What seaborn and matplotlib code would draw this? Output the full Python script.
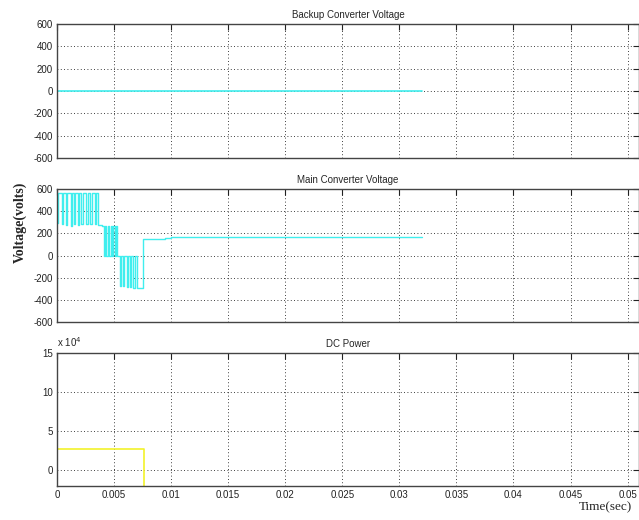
import numpy as np
import pandas as pd
import seaborn as sns
import matplotlib.pyplot as plt
from matplotlib.ticker import FuncFormatter, MultipleLocator

# backup converter: flat at zero
backup_t = [0.0, 0.032]
backup_v = [0.0, 0.0]

# main converter: switching levels (step-post)
main_t = [0.0, 0.0001, 0.0004, 0.0005, 0.0008, 0.0009, 0.0012, 0.0013, 0.0015, 0.0016,
          0.0018, 0.0019, 0.0021, 0.0023, 0.0025, 0.0027, 0.0029, 0.0031, 0.0033, 0.0034,
          0.0036, 0.0039, 0.0041, 0.0042, 0.0043, 0.0045, 0.0046, 0.0047, 0.0048, 0.0049,
          0.0051, 0.0052, 0.0053, 0.0055, 0.0056, 0.0058, 0.0059, 0.0061, 0.0062, 0.0064,
          0.0065, 0.0067, 0.0068, 0.0070, 0.0071, 0.0075, 0.0085, 0.0095, 0.0100, 0.0320]
main_v = [290, 560, 280, 560, 275, 560, 270, 560, 280, 560,
          275, 560, 280, 560, 285, 560, 285, 560, 280, 560,
          275, 268, 0, 265, 0, 265, 0, 265, 0, 265,
          0, 265, 0, -275, 0, -275, 0, -280, 0, -285,
          0, -290, 0, -295, -295, 150, 152, 158, 165, 165]

# dc power (W)
dc_t = [0.0, 0.0076, 0.0076]
dc_p = [2.7e4, 2.7e4, -3e4]

sns.set_style('white')
plt.rcParams['font.family'] = ['Liberation Sans Narrow', 'Liberation Sans', 'DejaVu Sans']
plt.rcParams['axes.unicode_minus'] = False

fig = plt.figure(figsize=(6.39, 5.2), dpi=100)
W, H = 639, 520
def box(top, bottom):
    return [57 / W, 1 - bottom / H, 1 - 57 / W, (bottom - top) / H]

ax1 = fig.add_axes(box(24, 158))
ax2 = fig.add_axes(box(189, 322))
ax3 = fig.add_axes(box(353, 486))

cyan = '#40eeee'
yellow = '#f2f22a'

sns.lineplot(x=backup_t, y=backup_v, ax=ax1, color=cyan, lw=1.2, estimator=None, sort=False)
sns.lineplot(x=main_t, y=main_v, ax=ax2, color=cyan, lw=1.0, estimator=None, sort=False,
             drawstyle='steps-post')
sns.lineplot(x=dc_t, y=dc_p, ax=ax3, color=yellow, lw=1.2, estimator=None, sort=False)

titles = ['Backup Converter Voltage', 'Main Converter Voltage', 'DC Power']
for ax, t in zip([ax1, ax2, ax3], titles):
    ax.set_xlim(0, 0.051)
    ax.xaxis.set_major_locator(MultipleLocator(0.005))
    ax.set_title(t, fontsize=7, pad=4)
    ax.grid(True, color='black', linestyle=(0, (1, 3)), linewidth=0.6)
    ax.tick_params(direction='in', length=4, width=0.8, labelsize=7, colors='#222222',
                   top=True, right=True, pad=3)
    for s in ax.spines.values():
        s.set_color('#444444')
        s.set_linewidth(1.0)
    ax.set_xlabel('')
    ax.set_ylabel('')

for ax in [ax1, ax2]:
    ax.set_ylim(-600, 600)
    ax.yaxis.set_major_locator(MultipleLocator(200))
    ax.tick_params(labelbottom=False)

ax3.set_ylim(-2e4, 15e4)
ax3.yaxis.set_major_locator(MultipleLocator(5e4))
ax3.yaxis.set_major_formatter(FuncFormatter(lambda v, p: f'{v / 1e4:g}'))
ax3.xaxis.set_major_formatter(FuncFormatter(lambda v, p: f'{v:g}'))
ax3.text(0.0, 1.03, r'x 10$^{4}$', transform=ax3.transAxes, fontsize=7, ha='left', va='bottom')

fig.text(20 / W, 1 - 222 / H, 'Voltage(volts)', rotation=90, ha='center', va='center',
         fontsize=10, family='Liberation Serif', fontweight='bold')
fig.text(605 / W, 1 - 507 / H, 'Time(sec)', ha='center', va='center',
         fontsize=9.5, family='Liberation Serif')

fig.savefig('out.png', dpi=100)
